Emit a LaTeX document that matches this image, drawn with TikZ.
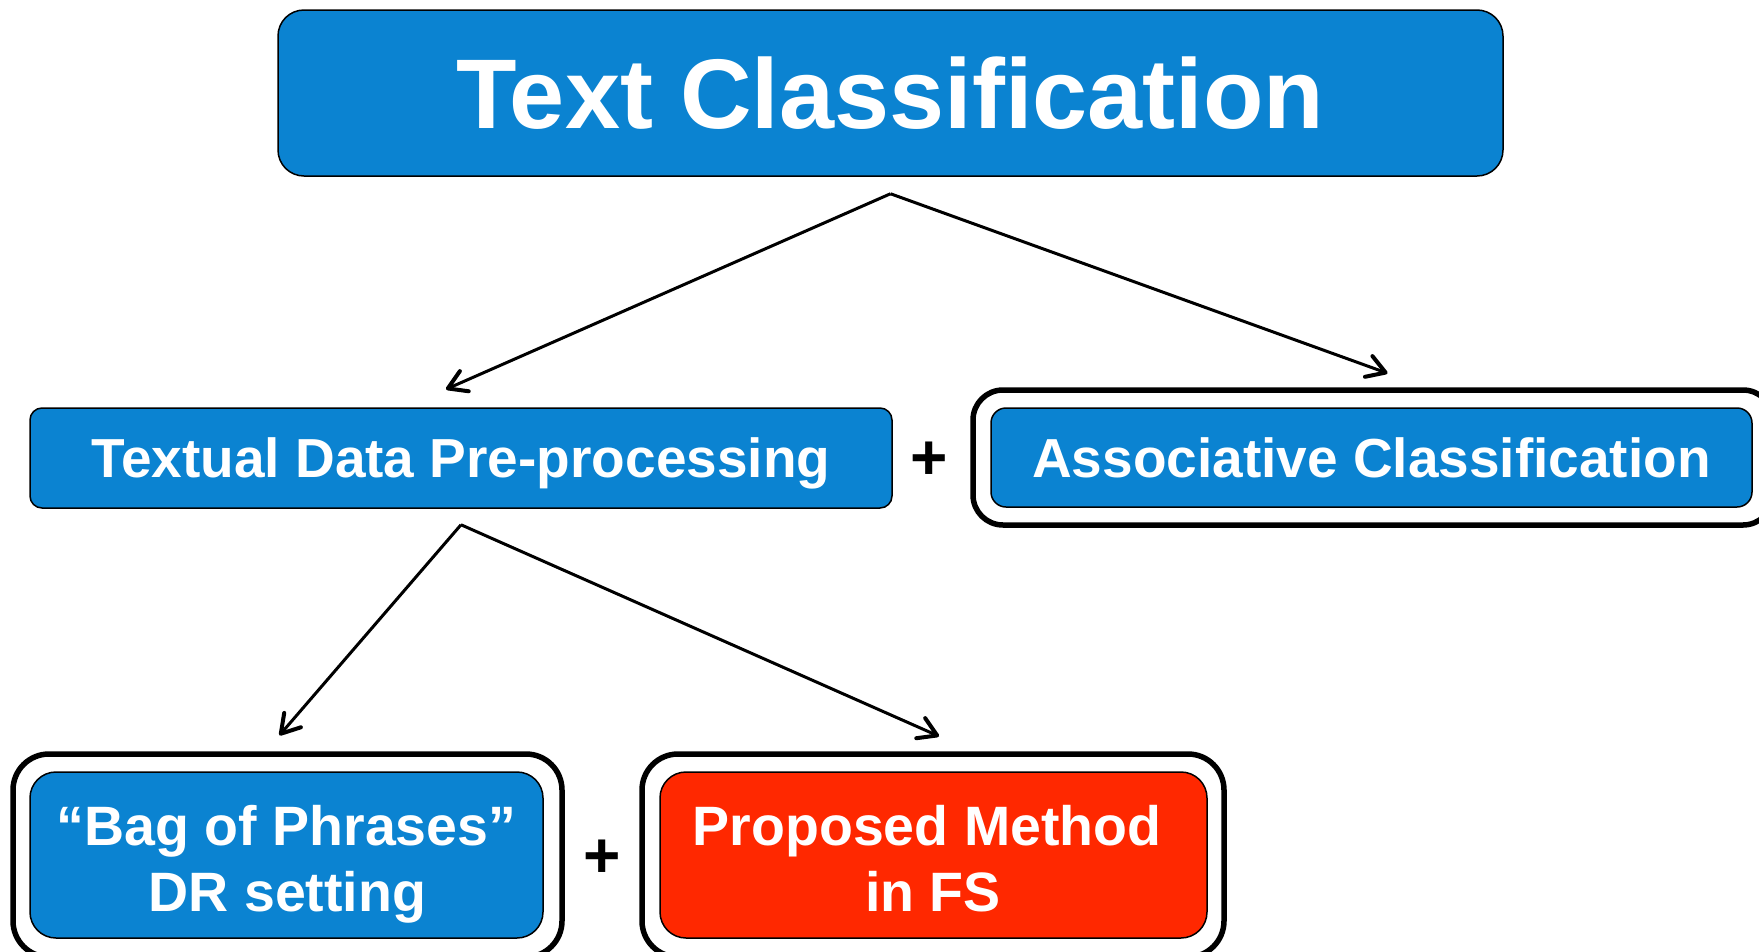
\documentclass[tikz,border=0pt]{standalone}
\usepackage{fontspec}
\setmainfont{Liberation Sans}
\usetikzlibrary{arrows.meta}
\definecolor{boxblue}{RGB}{11,131,209}
\definecolor{boxred}{RGB}{255,40,0}
\tikzset{
  bluebox/.style={draw=black, line width=1.5pt, fill=boxblue, text=white, font=\bfseries, align=center, inner sep=0pt},
  redbox/.style={draw=black, line width=1.5pt, fill=boxred, text=white, font=\bfseries, align=center, inner sep=0pt},
  outerbox/.style={draw=black, line width=5.5pt, fill=white, inner sep=0pt},
  linetext/.style={text=white, font=\bfseries\fontsize{55.5}{60}\selectfont, inner sep=0pt, anchor=base},
  arr/.style={line width=3pt, -{Straight Barb[length=18pt,width=22pt,line width=4pt,round]}},
  plussign/.style={font=\bfseries\fontsize{64}{64}\selectfont, text=black, inner sep=0pt}
}
\begin{document}
\begin{tikzpicture}[x=1pt,y=-1pt]
\useasboundingbox (0,0) rectangle (1759,951);
\clip (0,0) rectangle (1759,951);
% top
\node[bluebox, rounded corners=26pt, minimum width=1225pt, minimum height=166pt,
      font=\bfseries\fontsize{99}{110}\selectfont, text height=71pt, text depth=0pt] (top) at (890.5,93) {Text Classification};
% middle left
\node[bluebox, rounded corners=12pt, minimum width=862pt, minimum height=100pt,
      font=\bfseries\fontsize{55}{60}\selectfont, text height=39.5pt, text depth=0pt] (pre) at (461,458) {Textual Data Pre-processing};
\node[plussign] (plus1) at (929,461) {+};
% middle right
\node[outerbox, rounded corners=30pt, minimum width=800pt, minimum height=135pt] (assocout) at (1373,457.5) {};
\node[bluebox, rounded corners=15pt, minimum width=761pt, minimum height=99pt,
      font=\bfseries\fontsize{55}{60}\selectfont, text height=39.5pt, text depth=0pt] (assoc) at (1371.5,457.5) {Associative Classification};
% bottom left
\node[outerbox, rounded corners=36pt, minimum width=549pt, minimum height=203pt] (bagout) at (287.5,855.5) {};
\node[bluebox, rounded corners=26pt, minimum width=513pt, minimum height=166pt] (bag) at (286.5,855) {};
\node[linetext] (bag1) at (286.5,845) {“Bag of Phrases”};
\node[linetext] (bag2) at (287.5,911) {DR setting};
\node[plussign] (plus2) at (602,859) {+};
% bottom right
\node[outerbox, rounded corners=36pt, minimum width=582pt, minimum height=203pt] (propout) at (933,855.5) {};
\node[redbox, rounded corners=26pt, minimum width=547pt, minimum height=166pt] (prop) at (933.5,855) {};
\node[linetext] (prop1) at (927,845) {Proposed Method};
\node[linetext] (prop2) at (933,911) {in FS};
% arrows
\coordinate (topfoot) at ([yshift=-17pt]top.south);
\coordinate (prefoot) at ([yshift=-16pt]pre.south);
\draw[arr] (topfoot) -- ([xshift=-15pt,yshift=18pt]pre.north);
\draw[arr] (topfoot) -- ([xshift=16pt,yshift=34pt]assoc.north);
\draw[arr] (prefoot) -- ([xshift=-8pt,yshift=16pt]bagout.north);
\draw[arr] (prefoot) -- ([xshift=6pt,yshift=15pt]propout.north);
\end{tikzpicture}
\end{document}
